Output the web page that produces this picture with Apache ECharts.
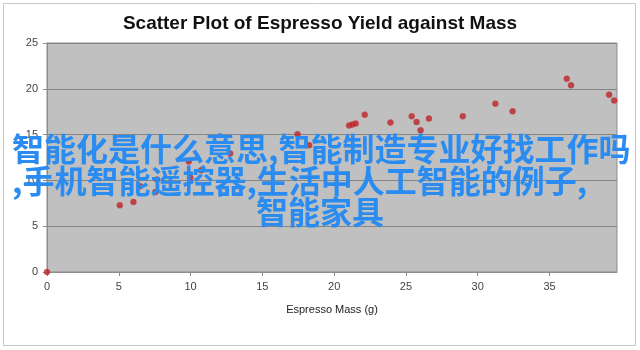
<!DOCTYPE html>
<html>
<head>
<meta charset="utf-8">
<script src="https://cdn.jsdelivr.net/npm/echarts@6/dist/echarts.min.js"></script>
<style>html,body{margin:0;padding:0;background:#fff;}#c{width:640px;height:350px;}</style>
</head>
<body>
<div id="c"></div>
<script>
var titleText = 'Scatter Plot of Espresso Yield against Mass';
var xAxisName = 'Espresso Mass (g)';
var massValues = [0, 5.07, 6.02, 6.48, 7.55, 7.66, 9.87, 9.98, 10.74, 12.76, 17.45, 18.26, 21.04, 21.27, 21.5, 22.13, 23.92, 25.4, 25.74, 26.02, 26.6, 28.96, 31.23, 32.43, 36.2, 36.5, 39.15, 39.5];
var yieldValues = [0, 7.28, 7.64, 9.36, 8.73, 10.09, 12.05, 10.3, 11.1, 12.93, 15.03, 13.83, 16.0, 16.09, 16.2, 17.18, 16.31, 17.0, 16.38, 15.47, 16.75, 17.0, 18.38, 17.54, 21.1, 20.38, 19.36, 18.71];
var overlayLines = ['智能化是什么意思,智能制造专业好找工作吗', ',手机智能遥控器,生活中人工智能的例子,', '智能家具'];

var points = massValues.map(function (m, i) { return [m, yieldValues[i]]; });
var chart = echarts.init(document.getElementById('c'), null, {renderer: 'canvas'});
var cjkFont = 'bold 32px "Noto Sans CJK SC", sans-serif';
chart.setOption({
  animation: false,
  backgroundColor: '#ffffff',
  title: {
    text: titleText, left: 'center', top: 9,
    textStyle: {fontFamily: 'Liberation Sans, Arial, sans-serif', fontSize: 19, fontWeight: 'bold', color: '#111'}
  },
  grid: {left: 47, top: 43, right: 23, bottom: 78, show: true, backgroundColor: '#c0c0c0', borderColor: '#8c8c8c', borderWidth: 1},
  xAxis: {
    type: 'value', min: 0, max: 39.7, interval: 5,
    name: xAxisName, nameLocation: 'middle', nameGap: 32,
    nameTextStyle: {fontFamily: 'Liberation Sans, Arial, sans-serif', fontSize: 11, color: '#222'},
    axisLine: {show: true, lineStyle: {color: '#8c8c8c'}},
    axisTick: {show: true, length: 4, lineStyle: {color: '#8c8c8c'}},
    axisLabel: {margin: 9, fontFamily: 'Liberation Sans, Arial, sans-serif', fontSize: 11, color: '#444', showMaxLabel: false,
      formatter: function (v) { return (v % 5 === 0) ? String(v) : ''; }},
    splitLine: {show: false}
  },
  yAxis: {
    type: 'value', min: 0, max: 25, interval: 5,
    axisLine: {show: true, lineStyle: {color: '#8c8c8c'}},
    axisTick: {show: true, length: 4, lineStyle: {color: '#8c8c8c'}},
    axisLabel: {margin: 9, fontFamily: 'Liberation Sans, Arial, sans-serif', fontSize: 11, color: '#444'},
    splitLine: {show: true, lineStyle: {color: '#858585', width: 1}}
  },
  series: [{
    type: 'scatter', data: points, symbol: 'circle', symbolSize: 6,
    itemStyle: {color: '#b8242a', borderColor: '#d03a3a', borderWidth: 0.5}
  }],
  graphic: [
    {type: 'rect', shape: {x: 3.5, y: 3.5, width: 632, height: 342}, style: {fill: 'none', stroke: '#c8c8c8', lineWidth: 1}, z: 100, silent: true},
    {type: 'text', x: 12, y: 149, z: 200, style: {text: overlayLines[0], font: cjkFont, fill: '#2a8cf0', align: 'left', verticalAlign: 'middle'}},
    {type: 'text', x: 12, y: 181, z: 200, style: {text: overlayLines[1], font: cjkFont, fill: '#2a8cf0', align: 'left', verticalAlign: 'middle'}},
    {type: 'text', x: 320, y: 212, z: 200, style: {text: overlayLines[2], font: cjkFont, fill: '#2a8cf0', align: 'center', verticalAlign: 'middle'}}
  ]
});
</script>
</body>
</html>
